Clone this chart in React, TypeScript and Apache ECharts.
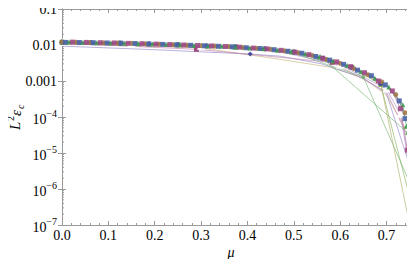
import { useEffect, useRef } from "react";
import * as echarts from "echarts";

const X_MIN = 0;
const X_MAX = 0.755;
const Y_MIN = 1e-7;
const Y_MAX = 0.1;
const FONT = '"Liberation Serif", "DejaVu Serif", serif';

// tick labels for decades 1e-7 ... 1e-1
const Y_TICK_LABELS = ["{b|10}{s|−7}", "{b|10}{s|−6}", "{b|10}{s|−5}", "{b|10}{s|−4}", "0.001", "0.01", "0.1"];
const Y_MINOR_MULT = [2, 3, 4, 5, 6, 7, 8, 9];
const Y_DECADES = [1e-7, 1e-6, 1e-5, 1e-4, 1e-3, 1e-2];

// dense series
const D1x = [0, 0.03, 0.06, 0.09, 0.12, 0.15, 0.18, 0.21, 0.24, 0.27, 0.30, 0.33, 0.36, 0.39, 0.42, 0.45, 0.48, 0.51, 0.54, 0.57, 0.60, 0.63, 0.66, 0.69, 0.72, 0.74];
const D1y = [0.0121, 0.0119, 0.0117, 0.0115, 0.0113, 0.0111, 0.0108, 0.0105, 0.0102, 0.0099, 0.0096, 0.0093, 0.0090, 0.0085, 0.0081, 0.0076, 0.0069, 0.0061, 0.0051, 0.0040, 0.0031, 0.0022, 0.0015, 0.00095, 0.00042, 0.00013];
const D2x = [0.0075, 0.0375, 0.0675, 0.0975, 0.1275, 0.1575, 0.1875, 0.2175, 0.2475, 0.2775, 0.3075, 0.3375, 0.3675, 0.3975, 0.4275, 0.4575, 0.4875, 0.5175, 0.5475, 0.5775, 0.6075, 0.6375, 0.6675, 0.6975, 0.7275, 0.74];
const D2y = [0.0118, 0.0117, 0.0116, 0.0114, 0.0112, 0.0110, 0.0107, 0.0104, 0.0101, 0.0098, 0.0095, 0.0092, 0.0089, 0.0084, 0.0080, 0.0074, 0.0067, 0.0059, 0.0048, 0.0038, 0.0029, 0.0020, 0.0014, 0.00078, 0.00028, 0.00009];
const D3x = [0.015, 0.045, 0.075, 0.105, 0.135, 0.165, 0.195, 0.225, 0.255, 0.285, 0.315, 0.345, 0.375, 0.405, 0.435, 0.465, 0.495, 0.525, 0.555, 0.585, 0.615, 0.645, 0.675, 0.705, 0.735, 0.743];
const D3y = [0.0122, 0.0118, 0.0116, 0.0114, 0.0112, 0.0109, 0.0107, 0.0104, 0.0101, 0.0097, 0.0094, 0.0092, 0.0088, 0.0083, 0.0079, 0.0072, 0.0065, 0.0056, 0.0046, 0.0036, 0.0027, 0.0018, 0.0012, 0.00068, 0.00022, 0.000055];
const D4x = [0.0225, 0.0525, 0.0825, 0.1125, 0.1425, 0.1725, 0.2025, 0.2325, 0.2625, 0.2925, 0.3225, 0.3525, 0.3825, 0.4125, 0.4425, 0.4725, 0.5025, 0.5325, 0.5625, 0.5925, 0.6225, 0.6525, 0.6825, 0.7125, 0.73, 0.745];
const D4y = [0.0120, 0.0118, 0.0116, 0.0114, 0.0111, 0.0109, 0.0106, 0.0103, 0.0100, 0.0097, 0.0094, 0.0091, 0.0087, 0.0082, 0.0078, 0.0071, 0.0063, 0.0054, 0.0043, 0.0034, 0.0025, 0.0017, 0.0010, 0.00053, 0.00017, 0.000012];

// sparse series
const Nx = [0, 0.0625, 0.125, 0.1875, 0.25, 0.3125, 0.375, 0.4375, 0.5, 0.5625, 0.625, 0.6875, 0.75];
const Ny = [0.0120, 0.0117, 0.0113, 0.0108, 0.0102, 0.0095, 0.0089, 0.0079, 0.0064, 0.0043, 0.0024, 0.00085, 1e-7];
const G1x = [0, 0.186, 0.372, 0.557, 0.745];
const G1y = [0.0118, 0.0107, 0.0089, 0.0049, 0.000037];
const G2x = [0, 0.125, 0.25, 0.375, 0.5, 0.625, 0.6875, 0.75];
const G2y = [0.0119, 0.0112, 0.0101, 0.0088, 0.0064, 0.0024, 0.0008, 6e-7];
const G3x = [0, 0.1625, 0.325, 0.4875, 0.65, 0.745];
const G3y = [0.0117, 0.0108, 0.0093, 0.0068, 0.0013, 0.0000021];
const L1x = [0, 0.2, 0.406, 0.47, 0.56, 0.65, 0.7, 0.745];
const L1y = [0.0093, 0.0074, 0.0056, 0.0049, 0.0030, 0.0012, 0.00045, 0.000007];
const L1mark = [0, 0, 1, 0, 0, 0, 0, 0];
const L2x = [0, 0.15, 0.3, 0.47, 0.58, 0.65, 0.7, 0.74];
const L2y = [0.0106, 0.0097, 0.0083, 0.0040, 0.0024, 0.0012, 0.0004, 0.00005];
const L3x = [0, 0.29, 0.583, 0.70, 0.745];
const L3y = [0.0112, 0.0076, 0.0033, 0.0005, 0.00003];
const L3mark = [0, 1, 1, 0, 0];
const L4x = [0, 0.15, 0.3, 0.45, 0.6, 0.7, 0.73, 0.748];
const L4y = [0.0117, 0.0109, 0.0093, 0.0073, 0.0028, 0.0006, 0.00012, 0.000005];

function mk(name: string, xs: number[], ys: number[], color: string, symbol: string, size = 5, marks?: number[], markColor?: string) {
  const empty = symbol.startsWith("empty");
  return {
    type: "line",
    name,
    data: xs.map((x, i) =>
      marks && !marks[i] ? { value: [x, ys[i]], symbol: "none" } : { value: [x, ys[i]] }
    ),
    symbol,
    symbolSize: size,
    showSymbol: true,
    lineStyle: { color, width: 0.7, opacity: 0.85 },
    itemStyle: empty
      ? { color: "#fff", borderColor: markColor ?? color, borderWidth: 0.8 }
      : { color: markColor ?? color, opacity: 0.9 },
    clip: false,
    silent: true,
  };
}

export default function App() {
  const ref = useRef<HTMLDivElement>(null);
  useEffect(() => {
    if (!ref.current) return;
    const chart = echarts.init(ref.current, null, { renderer: "svg" });
    const minorTicks: number[][] = [];
    Y_DECADES.forEach((d) => Y_MINOR_MULT.forEach((m) => minorTicks.push([0, d * m])));
    const axisColor = "#999";
    const xCommon = {
      type: "value",
      min: X_MIN,
      max: X_MAX,
      interval: 0.1,
      axisLine: { show: true, lineStyle: { color: axisColor, width: 1 } },
      axisTick: { show: true, inside: true, length: 4, lineStyle: { color: axisColor } },
      minorTick: { show: true, splitNumber: 5, length: 2, lineStyle: { color: axisColor } },
      splitLine: { show: false },
    };
    const yCommon = {
      type: "log",
      logBase: 10,
      min: Y_MIN,
      max: Y_MAX,
      splitNumber: 6,
      axisLine: { show: true, lineStyle: { color: axisColor, width: 1 } },
      axisTick: { show: true, inside: true, length: 4, lineStyle: { color: axisColor } },
      splitLine: { show: false },
    };
    chart.setOption({
      animation: false,
      grid: { left: 62, right: 3, top: 9, bottom: 42, containLabel: false },
      xAxis: [
        {
          ...xCommon,
          position: "bottom",
          axisLabel: {
            show: true,
            showMaxLabel: false,
            color: "#000",
            fontFamily: FONT,
            fontSize: 14,
            margin: 3,
            formatter: (v: number) => v.toFixed(1),
          },
        },
        { ...xCommon, position: "top", axisLabel: { show: false } },
      ],
      yAxis: [
        {
          ...yCommon,
          position: "left",
          axisLabel: {
            show: true,
            color: "#000",
            fontFamily: FONT,
            fontSize: 14,
            margin: 5,
            formatter: (v: number) => {
              const e = Math.round(Math.log10(v));
              return Y_TICK_LABELS[e + 7] ?? "";
            },
            rich: {
              b: { fontFamily: FONT, fontSize: 14, color: "#000", lineHeight: 18, verticalAlign: "bottom" },
              s: { fontFamily: FONT, fontSize: 10, color: "#000", lineHeight: 18, verticalAlign: "top" },
            },
          },
        },
        { ...yCommon, position: "right", axisLabel: { show: false } },
      ],
      graphic: [
        {
          type: "group",
          x: 15,
          y: 116,
          rotation: Math.PI / 2,
          children: [
            { type: "text", x: -14, y: 0, style: { text: "L", fontFamily: FONT, fontStyle: "italic", fontSize: 15, fill: "#000", align: "left", verticalAlign: "middle" } },
            { type: "text", x: -5, y: -5, style: { text: "2", fontFamily: FONT, fontSize: 10, fill: "#000", align: "left", verticalAlign: "middle" } },
            { type: "text", x: 0, y: 1, style: { text: "ε", fontFamily: FONT, fontStyle: "italic", fontSize: 15, fill: "#000", align: "left", verticalAlign: "middle" } },
            { type: "text", x: 7, y: 5, style: { text: "c", fontFamily: FONT, fontStyle: "italic", fontSize: 10, fill: "#000", align: "left", verticalAlign: "middle" } },
          ],
        },
        {
          type: "text",
          x: 231,
          y: 252,
          style: { text: "μ", fontFamily: FONT, fontStyle: "italic", fontSize: 14, fill: "#000", align: "center", verticalAlign: "middle" },
        },
      ],
      series: [
        {
          type: "custom",
          silent: true,
          clip: false,
          data: minorTicks,
          renderItem: (_p: any, api: any) => {
            const v = api.value(1);
            const l = api.coord([X_MIN, v]);
            const r = api.coord([X_MAX, v]);
            const len = 2;
            return {
              type: "group",
              children: [
                { type: "line", shape: { x1: l[0], y1: l[1], x2: l[0] + len, y2: l[1] }, style: { stroke: axisColor, lineWidth: 1 } },
                { type: "line", shape: { x1: r[0], y1: r[1], x2: r[0] - len, y2: r[1] }, style: { stroke: axisColor, lineWidth: 1 } },
              ],
            };
          },
        },
        mk("L2", L2x, L2y, "#c0b070", "circle", 3, [0, 0, 0, 0, 0, 0, 0, 1]),
        mk("L1", L1x, L1y, "#8a7cc8", "diamond", 5, L1mark, "#3d3d99"),
        mk("L3", L3x, L3y, "#c07aa8", "rect", 5, L3mark, "#993d71"),
        mk("L4", L4x, L4y, "#a888c8", "emptyTriangle", 5),
        mk("G1", G1x, G1y, "#6ab06a", "triangle", 5),
        mk("G2", G2x, G2y, "#80b050", "rect", 5),
        mk("G3", G3x, G3y, "#70b070", "circle", 4, [1, 1, 1, 1, 1, 0]),
        mk("N", Nx, Ny, "#a8a860", "circle", 5, undefined, "#3d3d99"),
        mk("D1", D1x, D1y, "#a07a48", "circle", 5),
        mk("D2", D2x, D2y, "#4a64a8", "rect", 5),
        mk("D3", D3x, D3y, "#3d9954", "triangle", 5),
        mk("D4", D4x, D4y, "#a04a84", "rect", 5),
      ],
    });
    return () => chart.dispose();
  }, []);
  return <div ref={ref} style={{ width: 415, height: 267, margin: -8 }} />;
}
